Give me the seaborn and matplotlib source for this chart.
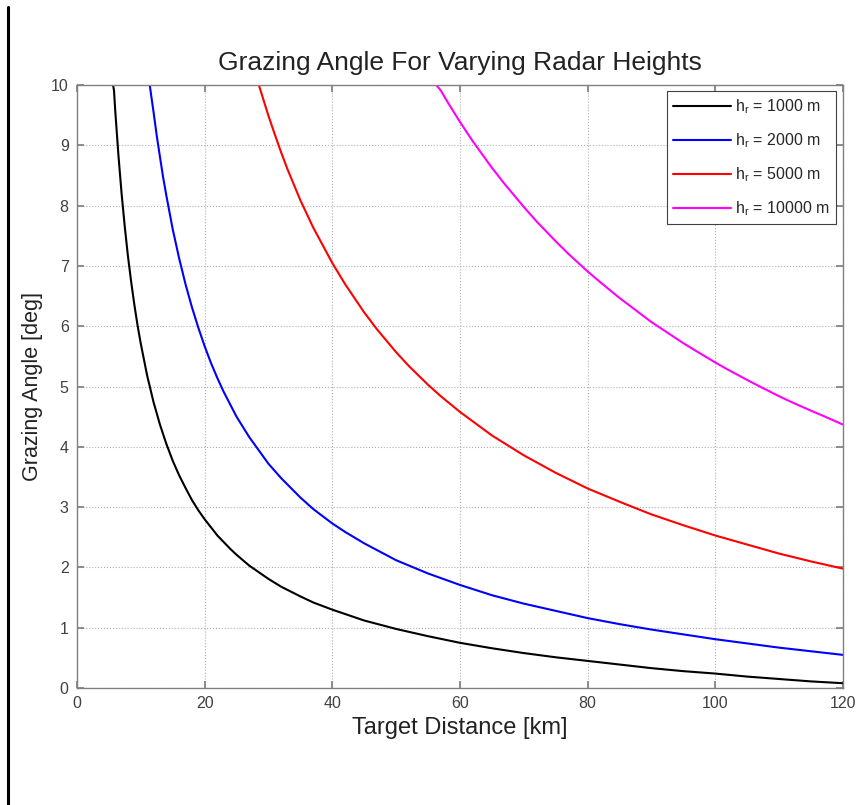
import numpy as np
import pandas as pd
import matplotlib
matplotlib.use("Agg")
import matplotlib.pyplot as plt
import seaborn as sns

# values (distance in km, angle in deg)
dist_1000 = [5.65, 5.8, 6, 6.5, 7, 7.5, 8, 8.5, 9, 9.5, 10, 11, 12, 13, 14, 15, 16, 17, 18, 19, 20,
             22, 24, 25, 27, 30, 32, 35, 37, 40, 45, 50, 55, 60, 65, 70, 75, 80, 85, 90, 95, 100,
             105, 110, 115, 120]
ang_1000 = [10.0, 9.91, 9.57, 8.83, 8.19, 7.64, 7.15, 6.73, 6.35, 6.01, 5.71, 5.18, 4.74, 4.37, 4.05,
            3.77, 3.53, 3.32, 3.12, 2.95, 2.80, 2.53, 2.31, 2.21, 2.03, 1.81, 1.68, 1.52, 1.42, 1.30,
            1.12, 0.98, 0.86, 0.75, 0.66, 0.58, 0.51, 0.45, 0.39, 0.33, 0.28, 0.24, 0.19, 0.15, 0.11,
            0.08]

dist_2000 = [11.4, 12, 12.5, 13, 13.5, 14, 15, 16, 17, 18, 19, 20, 21, 22, 23, 25, 27, 30, 32, 35,
             37, 40, 42, 45, 50, 55, 60, 65, 70, 75, 80, 85, 90, 95, 100, 105, 110, 115, 120]
ang_2000 = [10.0, 9.55, 9.16, 8.81, 8.47, 8.17, 7.61, 7.13, 6.70, 6.32, 5.98, 5.67, 5.39, 5.14, 4.91,
            4.50, 4.16, 3.72, 3.48, 3.16, 2.97, 2.73, 2.59, 2.40, 2.12, 1.90, 1.71, 1.54, 1.40, 1.28,
            1.16, 1.06, 0.97, 0.89, 0.81, 0.74, 0.67, 0.61, 0.55]

dist_5000 = [28.5, 29, 30, 31, 32, 33, 35, 37, 40, 42, 45, 47, 50, 52, 55, 57, 60, 65, 70, 75, 80,
             85, 90, 95, 100, 105, 110, 115, 120]
ang_5000 = [10.0, 9.83, 9.49, 9.18, 8.88, 8.60, 8.09, 7.64, 7.05, 6.70, 6.23, 5.95, 5.57, 5.34, 5.03,
            4.84, 4.58, 4.19, 3.86, 3.57, 3.31, 3.09, 2.88, 2.70, 2.53, 2.38, 2.23, 2.10, 1.98]

dist_10000 = [56.3, 57, 58, 59, 60, 62, 65, 67, 70, 72, 75, 77, 80, 82, 85, 87, 90, 92, 95, 97, 100,
              102, 105, 107, 110, 112, 115, 117, 120]
ang_10000 = [10.0, 9.91, 9.73, 9.56, 9.39, 9.07, 8.63, 8.36, 7.98, 7.74, 7.41, 7.20, 6.91, 6.73, 6.47,
             6.31, 6.07, 5.93, 5.72, 5.59, 5.40, 5.28, 5.11, 5.00, 4.84, 4.74, 4.60, 4.51, 4.37]

labels = [r"h$_\mathregular{r}$ = 1000 m", r"h$_\mathregular{r}$ = 2000 m",
          r"h$_\mathregular{r}$ = 5000 m", r"h$_\mathregular{r}$ = 10000 m"]
colors = ["#000000", "#0000ff", "#ff0000", "#ff00ff"]

frames = []
for lab, d, a in zip(labels, [dist_1000, dist_2000, dist_5000, dist_10000],
                     [ang_1000, ang_2000, ang_5000, ang_10000]):
    frames.append(pd.DataFrame({"dist": d, "angle": a, "height": lab}))
df = pd.concat(frames, ignore_index=True)

sns.set_theme(style="ticks")
plt.rcParams["font.family"] = ["Liberation Sans", "DejaVu Sans"]
plt.rcParams["mathtext.fontset"] = "custom"
plt.rcParams["mathtext.rm"] = "Liberation Sans"

fig = plt.figure(figsize=(8.6, 8.05), dpi=100, facecolor="white")
ax = fig.add_axes([0.0895, 0.1453, 0.8905, 0.7491])

sns.lineplot(data=df, x="dist", y="angle", hue="height", palette=dict(zip(labels, colors)),
             hue_order=labels, linewidth=1.5, sort=False, estimator=None, ax=ax)

ax.set_xlim(0, 120)
ax.set_ylim(0, 10)
ax.set_xticks(range(0, 121, 20))
ax.set_yticks(range(0, 11))
ax.grid(True, linestyle=":", color="#b0b0b0", linewidth=0.8)
for s in ax.spines.values():
    s.set_color("#808080")
    s.set_linewidth(1.0)
ax.tick_params(direction="in", top=True, right=True, length=5, color="#808080",
               labelsize=11.5, labelcolor="#404040", pad=6)

ax.set_title("Grazing Angle For Varying Radar Heights", fontsize=19, color="#222222", pad=11)
ax.set_xlabel("Target Distance [km]", fontsize=17, color="#222222", labelpad=4)
ax.set_ylabel("Grazing Angle [deg]", fontsize=15.5, color="#222222", labelpad=6)

leg = ax.legend(loc="upper right", fontsize=11.5, frameon=True, fancybox=False,
                edgecolor="#404040", framealpha=1, handlelength=3.6, handletextpad=0.3,
                borderaxespad=0.4, labelspacing=0.95)
leg.get_frame().set_linewidth(0.8)

# page border on the left
fig.add_artist(plt.Line2D([0.0093, 0.0093], [0.0, 0.991], color="black", linewidth=2.2))

fig.savefig("out.png", dpi=100, facecolor="white")
